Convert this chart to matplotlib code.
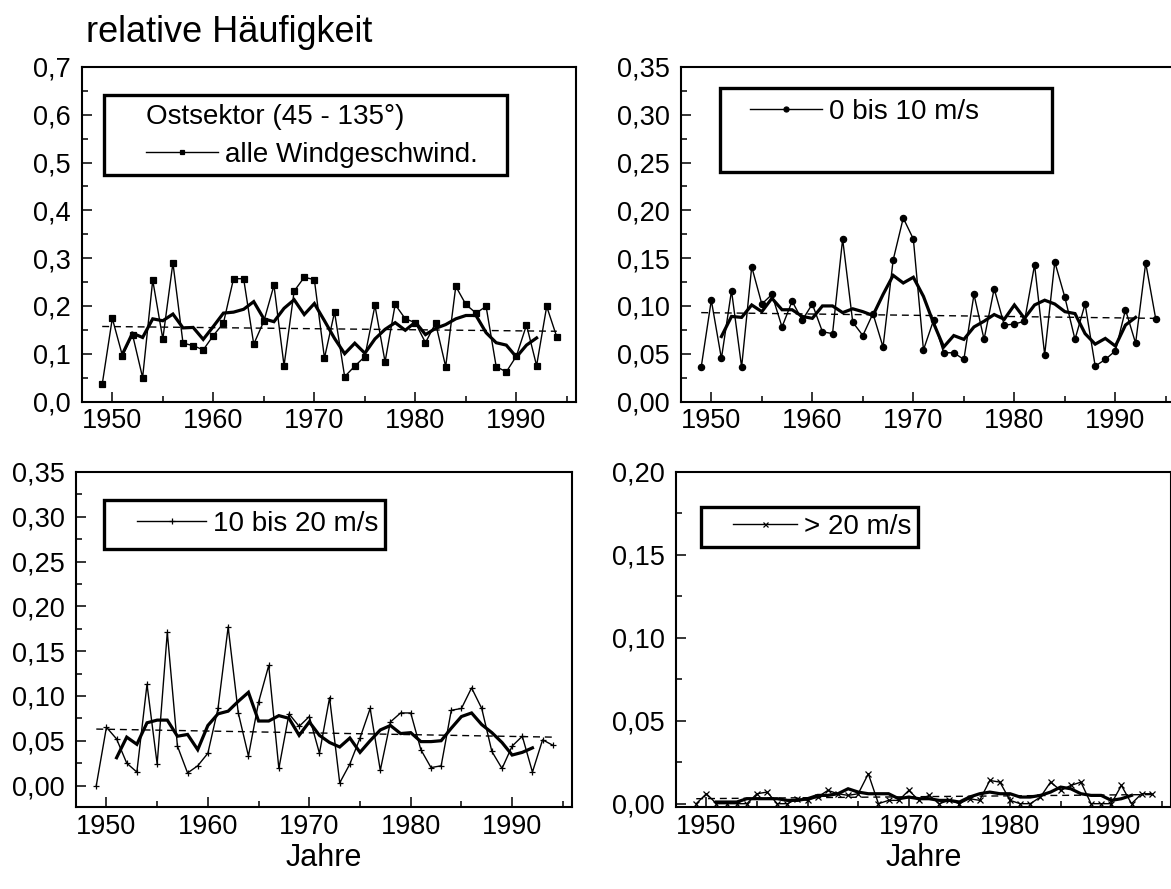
import matplotlib
matplotlib.use('Agg')
import matplotlib.pyplot as plt
from matplotlib.patches import Rectangle
from matplotlib.ticker import MultipleLocator, FuncFormatter

plt.rcParams['font.family'] = ['Liberation Sans', 'DejaVu Sans']

# Jahre der Einzelwerte, des gleitenden Mittels und der Trendlinie
years = list(range(1949, 1995))
ma_years = list(range(1951, 1993))
trend_years = [1949, 1994]

# Ostsektor, alle Windgeschwindigkeiten
alle = [0.036, 0.174, 0.096, 0.140, 0.050, 0.254, 0.131, 0.290, 0.122, 0.117,
        0.108, 0.138, 0.164, 0.257, 0.257, 0.120, 0.168, 0.243, 0.075, 0.231,
        0.260, 0.255, 0.091, 0.187, 0.052, 0.074, 0.094, 0.201, 0.083, 0.203,
        0.173, 0.165, 0.123, 0.164, 0.073, 0.241, 0.203, 0.185, 0.199, 0.073,
        0.062, 0.095, 0.160, 0.075, 0.199, 0.135]
alle_ma = [0.099, 0.143, 0.134, 0.173, 0.169, 0.183, 0.154, 0.155, 0.130, 0.157,
           0.185, 0.187, 0.193, 0.209, 0.173, 0.167, 0.195, 0.213, 0.182, 0.205,
           0.169, 0.132, 0.100, 0.122, 0.101, 0.131, 0.151, 0.165, 0.149, 0.166,
           0.140, 0.153, 0.161, 0.173, 0.180, 0.180, 0.144, 0.123, 0.118, 0.093,
           0.118, 0.133]
alle_trend = [0.157, 0.147]

# 0 bis 10 m/s
v0_10 = [0.036, 0.106, 0.045, 0.116, 0.036, 0.141, 0.102, 0.112, 0.078, 0.105,
         0.085, 0.102, 0.073, 0.071, 0.170, 0.083, 0.069, 0.092, 0.057, 0.148,
         0.192, 0.170, 0.054, 0.085, 0.051, 0.051, 0.044, 0.112, 0.065, 0.118,
         0.080, 0.081, 0.084, 0.143, 0.049, 0.146, 0.109, 0.065, 0.102, 0.037,
         0.044, 0.053, 0.096, 0.061, 0.145, 0.086]
v0_10_ma = [0.068, 0.089, 0.088, 0.101, 0.094, 0.108, 0.096, 0.096, 0.089, 0.087,
            0.100, 0.100, 0.093, 0.097, 0.094, 0.090, 0.112, 0.132, 0.124, 0.130,
            0.110, 0.082, 0.057, 0.069, 0.065, 0.078, 0.084, 0.091, 0.086, 0.101,
            0.087, 0.101, 0.106, 0.102, 0.094, 0.092, 0.071, 0.060, 0.066, 0.058,
            0.080, 0.088]
v0_10_trend = [0.093, 0.087]

# 10 bis 20 m/s
v10_20 = [0.000, 0.065, 0.052, 0.025, 0.015, 0.113, 0.024, 0.171, 0.044, 0.014,
          0.022, 0.036, 0.086, 0.177, 0.081, 0.033, 0.093, 0.134, 0.019, 0.080,
          0.066, 0.077, 0.036, 0.098, 0.003, 0.024, 0.053, 0.086, 0.017, 0.071,
          0.081, 0.081, 0.040, 0.020, 0.022, 0.084, 0.086, 0.109, 0.086, 0.038,
          0.019, 0.044, 0.055, 0.015, 0.051, 0.045]
v10_20_ma = [0.031, 0.054, 0.046, 0.070, 0.073, 0.073, 0.055, 0.057, 0.040, 0.067,
             0.080, 0.083, 0.094, 0.104, 0.072, 0.072, 0.078, 0.075, 0.056, 0.071,
             0.056, 0.048, 0.043, 0.053, 0.037, 0.050, 0.062, 0.067, 0.058, 0.059,
             0.049, 0.049, 0.050, 0.064, 0.077, 0.081, 0.068, 0.059, 0.048, 0.034,
             0.037, 0.042]
v10_20_trend = [0.063, 0.054]

# > 20 m/s
v20 = [0.000, 0.006, 0.000, 0.000, 0.000, 0.000, 0.006, 0.007, 0.000, 0.000,
       0.003, 0.002, 0.004, 0.008, 0.006, 0.005, 0.006, 0.018, 0.000, 0.002,
       0.002, 0.008, 0.002, 0.005, 0.000, 0.002, 0.000, 0.003, 0.002, 0.014,
       0.013, 0.002, 0.000, 0.000, 0.004, 0.013, 0.008, 0.011, 0.013, 0.000,
       0.000, 0.000, 0.011, 0.000, 0.006, 0.006]
v20_ma = [0.001, 0.001, 0.001, 0.003, 0.003, 0.003, 0.003, 0.002, 0.002, 0.003,
          0.005, 0.005, 0.006, 0.009, 0.007, 0.006, 0.006, 0.006, 0.003, 0.004,
          0.003, 0.003, 0.002, 0.002, 0.001, 0.004, 0.006, 0.007, 0.006, 0.006,
          0.004, 0.004, 0.005, 0.007, 0.010, 0.009, 0.006, 0.005, 0.005, 0.002,
          0.003, 0.005]
v20_trend = [0.003, 0.0055]

FS = 19.5     # Achsenbeschriftung
LFS = 20      # Legende


def comma_fmt(decimals):
    return FuncFormatter(lambda v, p: f"{v:.{decimals}f}".replace('.', ','))


def draw_panel(ax, vals, ma, trend, marker, ms, label, ylim, ystep, decimals,
               box, anchor, header=None, hl=2.7):
    line, = ax.plot(years, vals, color='black', lw=1.0, marker=marker,
                    ms=ms, mew=0.9, mfc='black', mec='black')
    ax.plot(ma_years, ma, color='black', lw=2.3, solid_joinstyle='miter')
    ax.plot(trend_years, trend, color='black', lw=1.0, dashes=(5, 3.5))

    ax.set_xlim(1947.0, 1995.9)
    ax.set_ylim(*ylim)
    ax.xaxis.set_major_locator(MultipleLocator(10))
    ax.xaxis.set_minor_locator(MultipleLocator(5))
    ax.yaxis.set_major_locator(MultipleLocator(ystep))
    ax.yaxis.set_minor_locator(MultipleLocator(ystep / 2))
    ax.yaxis.set_major_formatter(comma_fmt(decimals))
    ax.tick_params(which='both', direction='in', labelsize=FS, width=1.1)
    ax.tick_params(which='major', length=7)
    ax.tick_params(which='minor', length=4.5)
    ax.tick_params(axis='x', pad=5)
    ax.tick_params(axis='y', pad=8)
    for s in ax.spines.values():
        s.set_linewidth(1.5)

    # Legendenrahmen
    x0, x1, y0, y1 = box
    ax.add_patch(Rectangle((x0, y0), x1 - x0, y1 - y0, transform=ax.transAxes,
                           fill=False, lw=2.4, ec='black', zorder=5))
    if header:
        ax.text(anchor[0], anchor[1] + 0.114, header, transform=ax.transAxes,
                fontsize=LFS, va='center', ha='left')
    ax.legend([line], [label], loc='center left', bbox_to_anchor=anchor,
              frameon=False, fontsize=LFS, handlelength=hl, handletextpad=0.25,
              borderpad=0, borderaxespad=0, numpoints=1, markerscale=0.8)


fig = plt.figure(figsize=(11.71, 8.89), dpi=100)

ax1 = fig.add_axes([82 / 1171, 1 - 401.5 / 889, 494 / 1171, 334.5 / 889])
ax2 = fig.add_axes([681 / 1171, 1 - 401.5 / 889, 494 / 1171, 334.5 / 889])
ax3 = fig.add_axes([76 / 1171, 1 - 807 / 889, 496 / 1171, 335 / 889])
ax4 = fig.add_axes([676 / 1171, 1 - 807 / 889, 495 / 1171, 335 / 889])

draw_panel(ax1, alle, alle_ma, alle_trend, 's', 4.0, 'alle Windgeschwind.',
           (0, 0.7), 0.1, 1, (0.045, 0.860, 0.677, 0.916), (0.130, 0.737),
           header='Ostsektor (45 - 135°)', hl=2.6)
draw_panel(ax2, v0_10, v0_10_ma, v0_10_trend, 'o', 4.5, '0 bis 10 m/s',
           (0, 0.35), 0.05, 2, (0.079, 0.750, 0.685, 0.937), (0.140, 0.865),
           hl=2.6)
draw_panel(ax3, v10_20, v10_20_ma, v10_20_trend, '+', 5.0, '10 bis 20 m/s',
           (-0.024, 0.35), 0.05, 2, (0.056, 0.623, 0.770, 0.916), (0.123, 0.845),
           hl=2.5)
draw_panel(ax4, v20, v20_ma, v20_trend, 'x', 4.5, '> 20 m/s',
           (-0.002, 0.20), 0.05, 2, (0.050, 0.489, 0.776, 0.896), (0.115, 0.836),
           hl=2.3)

ax3.set_xlabel('Jahre', fontsize=22, labelpad=2)
ax4.set_xlabel('Jahre', fontsize=22, labelpad=2)

fig.text(86 / 1171, 1 - 33 / 889, 'relative Häufigkeit', fontsize=26,
         va='center', ha='left')

fig.savefig('out.png', dpi=100)
